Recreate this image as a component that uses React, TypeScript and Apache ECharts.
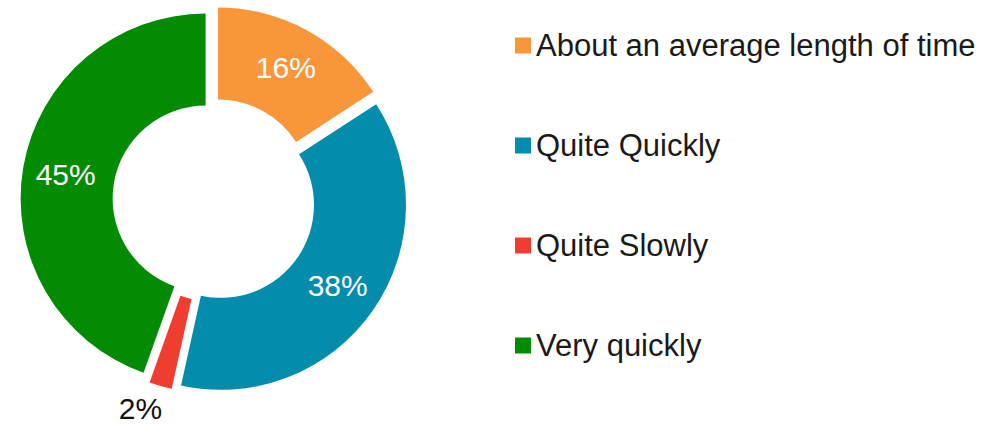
import React, { useEffect, useRef } from "react";
import * as echarts from "echarts";

const categories = [
  "About an average length of time",
  "Quite Quickly",
  "Quite Slowly",
  "Very quickly",
];
const values = [16, 38, 2, 45];
const colors = ["#F9963A", "#048CAC", "#EF3D30", "#038B03"];

export default function App() {
  const ref = useRef<HTMLDivElement>(null);
  useEffect(() => {
    if (!ref.current) return;
    const chart = echarts.init(ref.current, null, { renderer: "svg" });
    const font = "'Liberation Sans', Arial, Helvetica, sans-serif";
    chart.setOption({
      animation: false,
      legend: {
        orient: "vertical",
        left: 510,
        top: 25,
        itemWidth: 16,
        itemHeight: 16,
        itemGap: 69,
        itemTextGap: 8,
        icon: "rect",
        selectedMode: false,
        data: categories,
        textStyle: { fontFamily: font, fontSize: 31, color: "#1a1a1a" },
      },
      series: [
        {
          type: "pie",
          center: [214, 200],
          radius: [93, 185],
          startAngle: 90,
          clockwise: true,
          selectedMode: "multiple",
          selectedOffset: 8.5,
          avoidLabelOverlap: false,
          emphasis: { disabled: true },
          select: { itemStyle: { borderWidth: 0 } },
          itemStyle: { borderWidth: 0 },
          label: {
            show: true,
            position: "inside",
            formatter: "{c}%",
            fontFamily: font,
            fontSize: 30,
            color: "#ffffff",
          },
          labelLine: { show: false },
          data: categories.map((name, i) => {
            const item: any = {
              name,
              value: values[i],
              selected: true,
              itemStyle: { color: colors[i] },
            };
            if (i === 2) {
              item.label = {
                position: "outside",
                color: "#111111",
                distanceToLabelLine: -8,
              };
              item.labelLine = { show: false, length: 23, length2: 0 };
            }
            return item;
          }),
        },
      ],
    });
    return () => chart.dispose();
  }, []);
  return (
    <div
      ref={ref}
      style={{ position: "fixed", left: 0, top: 0, width: 1002, height: 424, background: "#fff" }}
    />
  );
}
